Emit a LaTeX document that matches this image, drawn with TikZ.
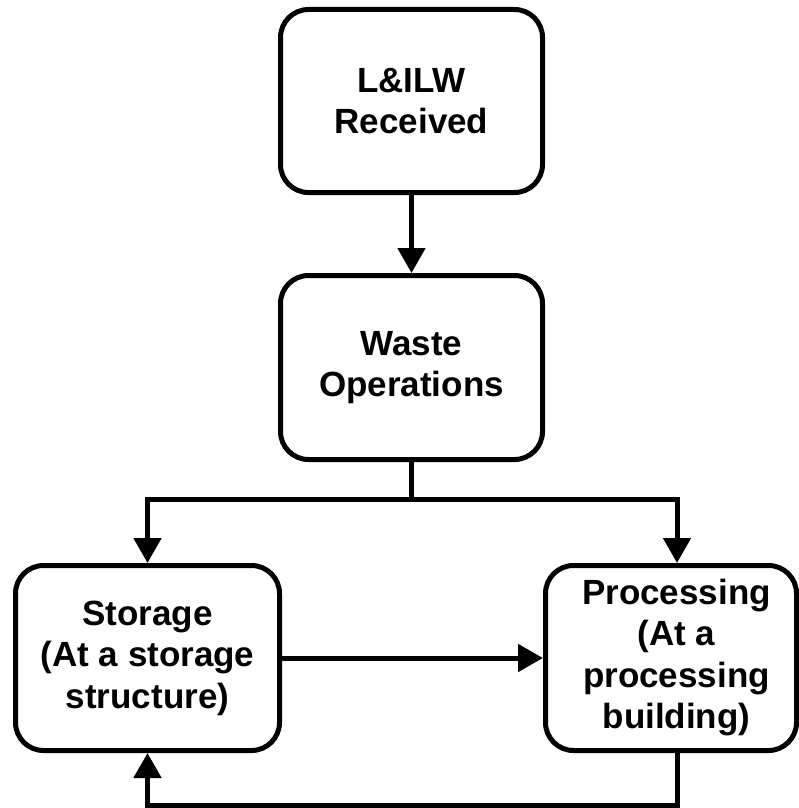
\documentclass[tikz,border=0pt]{standalone}
\usepackage{fontspec}
\setmainfont{Liberation Sans}
\usetikzlibrary{arrows.meta}

\tikzset{
  stagebox/.style={draw, line width=5pt, rounded corners=28pt, fill=white,
    inner sep=0pt, align=center,
    font=\fontsize{35}{41.5}\selectfont\bfseries},
  flow/.style={line width=5pt, -{Triangle[length=25pt,width=27pt]}},
  link/.style={line width=5pt}
}

\begin{document}
\begin{tikzpicture}[x=1pt, y=-1pt]
  \useasboundingbox (0,0) rectangle (799,808);

  % stages
  \node[stagebox, minimum width=262pt, minimum height=183pt] (recv) at (411.5,101)
    {L\&ILW\\Received};
  \node[stagebox, minimum width=262pt, minimum height=184pt] (ops) at (411.5,367.5)
    {Waste\\Operations};
  \node[stagebox, minimum width=264pt, minimum height=185pt] (store) at (147.5,658)
    {Storage\\(At a storage\\structure)};
  \node[stagebox, minimum width=251pt, minimum height=185pt] (proc) at (671,658)
    {\hspace*{11pt}\begin{tabular}{@{}c@{}}Processing\\(At a\\processing\\building)\end{tabular}};

  % split point below the operations stage
  \coordinate (split) at (411.5,499);
  \coordinate (low) at (411.5,805);

  % connectors
  \draw[flow] (recv) -- (ops);
  \draw[link] (ops.south) -- (split);
  \draw[flow] (split) -| (store.north);
  \draw[flow] (split) -| ([xshift=6pt]proc.north);
  \draw[flow] (store) -- (proc);
  \draw[flow] ([xshift=6pt]proc.south) |- (low -| store.south) -- (store.south);
\end{tikzpicture}
\end{document}
